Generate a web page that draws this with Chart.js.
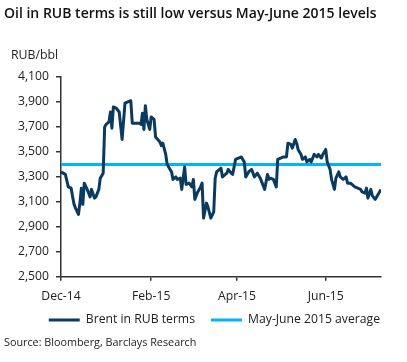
<!DOCTYPE html>
<html>
<head>
<meta charset="utf-8">
<script src="https://cdn.jsdelivr.net/npm/chart.js@4.4.1/dist/chart.umd.min.js"></script>
<style>
    body { margin: 0; background: #fff; font-family: "Open Sans", sans-serif; color: #222; }
    #wrap { position: relative; width: 407px; height: 362px; overflow: hidden; }
    #chart { position: absolute; left: 0; top: 0; }
    .txt { position: absolute; white-space: nowrap; }
    #title { left: 4px; top: 4px; font-size: 14px; font-weight: 600; line-height: 18px; color: #111; }
    #unit { left: 11px; top: 47px; font-size: 12.3px; line-height: 16px; }
    #source { left: 4px; top: 334px; font-size: 10.8px; line-height: 16px; }
</style>
</head>
<body>
<div id="wrap">
    <canvas id="chart" width="407" height="362"></canvas>
    <div class="txt" id="title">Oil in RUB terms is still low versus May-June 2015 levels</div>
    <div class="txt" id="unit">RUB/bbl</div>
    <div class="txt" id="source">Source: Bloomberg, Barclays Research</div>
</div>
<script>
// Days counted from 1 Dec 2014
const days = [0, 3, 5, 7, 8, 9, 10, 12, 13, 14, 15, 16, 18, 20, 21, 23, 24, 26, 27, 29,
    30, 31, 33, 34, 35, 36, 38, 40, 42, 44, 46, 48, 49, 51, 54, 55, 56, 57, 58, 59,
    61, 62, 64, 65, 68, 69, 70, 72, 73, 76, 77, 79, 80, 82, 83, 85, 86, 88, 90, 91,
    92, 94, 96, 97, 98, 100, 101, 103, 105, 106, 107, 110, 111, 114, 115, 117, 118, 120, 122, 124,
    126, 127, 129, 131, 133, 135, 137, 138, 140, 142, 143, 144, 146, 148, 149, 151, 153, 155, 156, 158,
    159, 161, 162, 163, 165, 166, 168, 169, 171, 172, 174, 176, 177, 179, 180, 182, 183, 185, 186, 188,
    189, 191, 192, 194, 196, 197, 199, 200, 202, 204, 206, 207, 209, 210, 211, 213, 214, 216, 218, 220];

const brentRub = [3340, 3320, 3220, 3210, 3140, 3080, 3050, 3000, 3090, 3210, 3080, 3250, 3200, 3140, 3200, 3130, 3140, 3200, 3290, 3330,
    3700, 3720, 3740, 3820, 3690, 3860, 3850, 3820, 3600, 3890, 3900, 3910, 3730, 3730, 3730, 3720, 3810, 3680, 3870, 3760,
    3680, 3780, 3760, 3620, 3580, 3550, 3570, 3480, 3400, 3340, 3280, 3300, 3280, 3290, 3200, 3380, 3240, 3250, 3220, 3280,
    3120, 3180, 3220, 3250, 2970, 3090, 3060, 2970, 3020, 3290, 3340, 3370, 3300, 3330, 3360, 3330, 3320, 3440, 3450, 3460,
    3420, 3300, 3340, 3360, 3300, 3330, 3290, 3260, 3200, 3320, 3280, 3290, 3280, 3220, 3440, 3450, 3460, 3460, 3570, 3560,
    3530, 3600, 3570, 3520, 3480, 3440, 3460, 3420, 3440, 3420, 3480, 3460, 3480, 3450, 3480, 3520, 3420, 3360, 3280, 3200,
    3290, 3340, 3300, 3280, 3300, 3250, 3250, 3240, 3220, 3210, 3200, 3180, 3170, 3210, 3130, 3200, 3150, 3120, 3160, 3200];

const mayJuneAvg = 3400;

const xTickDays = [0, 62, 121, 182];
const xTickLabels = ['Dec-14', 'Feb-15', 'Apr-15', 'Jun-15'];
const yTicks = [2500, 2700, 2900, 3100, 3300, 3500, 3700, 3900, 4100];

const navy = '#0a3a60';
const cyan = '#00b8ec';
const axisColor = '#333';
const tickFont = { family: '"Open Sans", sans-serif', size: 12.2 };

// nudge the legend box so it sits like the original (closer to the axis, flush right)
const legendNudge = {
    id: 'legendNudge',
    afterLayout(chart) {
        const lg = chart.legend;
        lg.top -= 6; lg.bottom -= 6;
        lg.left += 15; lg.right += 15;
    }
};

new Chart(document.getElementById('chart'), {
    type: 'line',
    data: {
        datasets: [{
            label: 'Brent in RUB terms',
            data: days.map((d, i) => ({ x: d, y: brentRub[i] })),
            borderColor: navy,
            backgroundColor: navy,
            borderWidth: 3,
            pointRadius: 0,
            tension: 0,
            borderJoinStyle: 'round'
        }, {
            label: 'May-June 2015 average',
            data: [{ x: 0, y: mayJuneAvg }, { x: 220, y: mayJuneAvg }],
            borderColor: cyan,
            backgroundColor: cyan,
            borderWidth: 3,
            pointRadius: 0
        }]
    },
    plugins: [legendNudge],
    options: {
        responsive: false,
        animation: false,
        layout: { padding: { top: 77, right: 26, bottom: 20, left: 0 } },
        scales: {
            x: {
                type: 'linear',
                min: 0,
                max: 220,
                afterBuildTicks: axis => { axis.ticks = xTickDays.map(v => ({ value: v })); },
                afterFit: axis => { axis.height = 27; },
                ticks: {
                    autoSkip: false,
                    maxRotation: 0,
                    padding: 8,
                    color: '#222',
                    font: tickFont,
                    callback: v => xTickLabels[xTickDays.indexOf(v)]
                },
                grid: { drawOnChartArea: false, tickLength: 4, color: axisColor, lineWidth: 1.5 },
                border: { color: axisColor, width: 1.5 }
            },
            y: {
                min: 2500,
                max: 4100,
                afterBuildTicks: axis => { axis.ticks = yTicks.map(v => ({ value: v })); },
                afterFit: axis => { axis.width = 61; },
                ticks: {
                    padding: 7,
                    color: '#222',
                    font: tickFont,
                    callback: v => v.toLocaleString('en-US')
                },
                grid: { drawOnChartArea: false, tickLength: 5, color: axisColor, lineWidth: 1.5 },
                border: { color: axisColor, width: 1.5 }
            }
        },
        plugins: {
            legend: {
                position: 'bottom',
                align: 'end',
                labels: {
                    usePointStyle: true,
                    pointStyle: 'line',
                    pointStyleWidth: 31,
                    padding: 16,
                    color: '#222',
                    font: tickFont
                }
            },
            tooltip: { enabled: false }
        }
    }
});
</script>
</body>
</html>
